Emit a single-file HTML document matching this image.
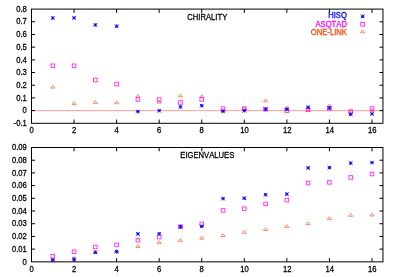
<!DOCTYPE html>
<html><head><meta charset="utf-8"><title>plot</title>
<style>
html,body{margin:0;padding:0;background:#fff;}
svg{display:block;filter:blur(0.2px);}
text{font-family:"Liberation Sans",sans-serif;font-size:9.0px;font-kerning:none;fill:#000;stroke:#000;stroke-width:0.3px;}
</style></head><body>

<svg width="396" height="277" viewBox="0 0 396 277">
<rect width="396" height="277" fill="#fff"/>
<path d="M31.5 110.65H382.95" stroke="#ff0000" stroke-width="0.4" fill="none"/>
<path d="M31.5 110.61h3.5M382.95 110.61h-3.5M31.5 97.92h3.5M382.95 97.92h-3.5M31.5 85.23h3.5M382.95 85.23h-3.5M31.5 72.54h3.5M382.95 72.54h-3.5M31.5 59.86h3.5M382.95 59.86h-3.5M31.5 47.17h3.5M382.95 47.17h-3.5M31.5 34.48h3.5M382.95 34.48h-3.5M31.5 21.79h3.5M382.95 21.79h-3.5M74.06 123.3v-3.8M74.06 9.1v3.8M116.62 123.3v-3.8M116.62 9.1v3.8M159.18 123.3v-3.8M159.18 9.1v3.8M201.74 123.3v-3.8M201.74 9.1v3.8M244.30 123.3v-3.8M244.30 9.1v3.8M286.86 123.3v-3.8M286.86 9.1v3.8M329.42 123.3v-3.8M329.42 9.1v3.8M371.98 123.3v-3.8M371.98 9.1v3.8" stroke="#000" stroke-width="1" fill="none"/>
<rect x="31.5" y="9.1" width="351.45" height="114.20" stroke="#000" stroke-width="1" fill="none"/>
<text transform="translate(26.80 125.95) scale(0.85 1)" text-anchor="end">-0.1</text>
<text transform="translate(26.80 113.26) scale(0.85 1)" text-anchor="end">0</text>
<text transform="translate(26.80 100.57) scale(0.85 1)" text-anchor="end">0.1</text>
<text transform="translate(26.80 87.88) scale(0.85 1)" text-anchor="end">0.2</text>
<text transform="translate(26.80 75.19) scale(0.85 1)" text-anchor="end">0.3</text>
<text transform="translate(26.80 62.51) scale(0.85 1)" text-anchor="end">0.4</text>
<text transform="translate(26.80 49.82) scale(0.85 1)" text-anchor="end">0.5</text>
<text transform="translate(26.80 37.13) scale(0.85 1)" text-anchor="end">0.6</text>
<text transform="translate(26.80 24.44) scale(0.85 1)" text-anchor="end">0.7</text>
<text transform="translate(26.80 11.75) scale(0.85 1)" text-anchor="end">0.8</text>
<text transform="translate(31.50 133.10) scale(0.85 1)" text-anchor="middle">0</text>
<text transform="translate(74.06 133.10) scale(0.85 1)" text-anchor="middle">2</text>
<text transform="translate(116.62 133.10) scale(0.85 1)" text-anchor="middle">4</text>
<text transform="translate(159.18 133.10) scale(0.85 1)" text-anchor="middle">6</text>
<text transform="translate(201.74 133.10) scale(0.85 1)" text-anchor="middle">8</text>
<text transform="translate(244.60 133.10) scale(0.85 1)" text-anchor="middle">10</text>
<text transform="translate(287.16 133.10) scale(0.85 1)" text-anchor="middle">12</text>
<text transform="translate(329.72 133.10) scale(0.85 1)" text-anchor="middle">14</text>
<text transform="translate(372.28 133.10) scale(0.85 1)" text-anchor="middle">16</text>
<text transform="translate(207.30 19.50) scale(0.85 1)" text-anchor="middle">CHIRALITY</text>
<path d="M52.78 85.30L54.88 88.10H50.68Z" stroke="#ff4500" stroke-width="0.62" fill="none" stroke-linejoin="miter"/>
<path d="M74.06 101.80L76.16 104.60H71.96Z" stroke="#ff4500" stroke-width="0.62" fill="none" stroke-linejoin="miter"/>
<path d="M95.34 100.60L97.44 103.40H93.24Z" stroke="#ff4500" stroke-width="0.62" fill="none" stroke-linejoin="miter"/>
<path d="M116.62 100.95L118.72 103.75H114.52Z" stroke="#ff4500" stroke-width="0.62" fill="none" stroke-linejoin="miter"/>
<path d="M137.90 94.30L140.00 97.10H135.80Z" stroke="#ff4500" stroke-width="0.62" fill="none" stroke-linejoin="miter"/>
<path d="M159.18 100.40L161.28 103.20H157.08Z" stroke="#ff4500" stroke-width="0.62" fill="none" stroke-linejoin="miter"/>
<path d="M180.46 94.00L182.56 96.80H178.36Z" stroke="#ff4500" stroke-width="0.62" fill="none" stroke-linejoin="miter"/>
<path d="M201.74 94.70L203.84 97.50H199.64Z" stroke="#ff4500" stroke-width="0.62" fill="none" stroke-linejoin="miter"/>
<path d="M223.02 108.60L225.12 111.40H220.92Z" stroke="#ff4500" stroke-width="0.62" fill="none" stroke-linejoin="miter"/>
<path d="M244.30 106.55L246.40 109.35H242.20Z" stroke="#ff4500" stroke-width="0.62" fill="none" stroke-linejoin="miter"/>
<path d="M265.58 99.00L267.68 101.80H263.48Z" stroke="#ff4500" stroke-width="0.62" fill="none" stroke-linejoin="miter"/>
<path d="M286.86 106.10L288.96 108.90H284.76Z" stroke="#ff4500" stroke-width="0.62" fill="none" stroke-linejoin="miter"/>
<path d="M308.14 108.10L310.24 110.90H306.04Z" stroke="#ff4500" stroke-width="0.62" fill="none" stroke-linejoin="miter"/>
<path d="M329.42 103.90L331.52 106.70H327.32Z" stroke="#ff4500" stroke-width="0.62" fill="none" stroke-linejoin="miter"/>
<path d="M350.70 110.10L352.80 112.90H348.60Z" stroke="#ff4500" stroke-width="0.62" fill="none" stroke-linejoin="miter"/>
<path d="M371.98 108.70L374.08 111.50H369.88Z" stroke="#ff4500" stroke-width="0.62" fill="none" stroke-linejoin="miter"/>
<rect x="50.98" y="64.00" width="3.60" height="3.60" stroke="#ff00ff" stroke-width="0.95" stroke-opacity="0.8" fill="none"/>
<rect x="72.26" y="64.00" width="3.60" height="3.60" stroke="#ff00ff" stroke-width="0.95" stroke-opacity="0.8" fill="none"/>
<rect x="93.54" y="78.20" width="3.60" height="3.60" stroke="#ff00ff" stroke-width="0.95" stroke-opacity="0.8" fill="none"/>
<rect x="114.82" y="82.30" width="3.60" height="3.60" stroke="#ff00ff" stroke-width="0.95" stroke-opacity="0.8" fill="none"/>
<rect x="136.10" y="97.60" width="3.60" height="3.60" stroke="#ff00ff" stroke-width="0.95" stroke-opacity="0.8" fill="none"/>
<rect x="157.38" y="97.80" width="3.60" height="3.60" stroke="#ff00ff" stroke-width="0.95" stroke-opacity="0.8" fill="none"/>
<rect x="178.66" y="100.70" width="3.60" height="3.60" stroke="#ff00ff" stroke-width="0.95" stroke-opacity="0.8" fill="none"/>
<rect x="199.94" y="97.60" width="3.60" height="3.60" stroke="#ff00ff" stroke-width="0.95" stroke-opacity="0.8" fill="none"/>
<rect x="221.22" y="106.80" width="3.60" height="3.60" stroke="#ff00ff" stroke-width="0.95" stroke-opacity="0.8" fill="none"/>
<rect x="242.50" y="107.00" width="3.60" height="3.60" stroke="#ff00ff" stroke-width="0.95" stroke-opacity="0.8" fill="none"/>
<rect x="263.78" y="107.40" width="3.60" height="3.60" stroke="#ff00ff" stroke-width="0.95" stroke-opacity="0.8" fill="none"/>
<rect x="285.06" y="108.80" width="3.60" height="3.60" stroke="#ff00ff" stroke-width="0.95" stroke-opacity="0.8" fill="none"/>
<rect x="306.34" y="107.90" width="3.60" height="3.60" stroke="#ff00ff" stroke-width="0.95" stroke-opacity="0.8" fill="none"/>
<rect x="327.62" y="106.40" width="3.60" height="3.60" stroke="#ff00ff" stroke-width="0.95" stroke-opacity="0.8" fill="none"/>
<rect x="348.90" y="109.80" width="3.60" height="3.60" stroke="#ff00ff" stroke-width="0.95" stroke-opacity="0.8" fill="none"/>
<rect x="370.18" y="106.70" width="3.60" height="3.60" stroke="#ff00ff" stroke-width="0.95" stroke-opacity="0.8" fill="none"/>
<path d="M51.08 18.00H54.48M52.78 16.30V19.70M50.98 16.20L54.58 19.80M50.98 19.80L54.58 16.20" stroke="#0000ff" stroke-width="0.9" fill="none"/>
<path d="M72.36 17.90H75.76M74.06 16.20V19.60M72.26 16.10L75.86 19.70M72.26 19.70L75.86 16.10" stroke="#0000ff" stroke-width="0.9" fill="none"/>
<path d="M93.64 24.95H97.04M95.34 23.25V26.65M93.54 23.15L97.14 26.75M93.54 26.75L97.14 23.15" stroke="#0000ff" stroke-width="0.9" fill="none"/>
<path d="M114.92 26.20H118.32M116.62 24.50V27.90M114.82 24.40L118.42 28.00M114.82 28.00L118.42 24.40" stroke="#0000ff" stroke-width="0.9" fill="none"/>
<path d="M136.20 111.60H139.60M137.90 109.90V113.30M136.10 109.80L139.70 113.40M136.10 113.40L139.70 109.80" stroke="#0000ff" stroke-width="0.9" fill="none"/>
<path d="M157.48 110.70H160.88M159.18 109.00V112.40M157.38 108.90L160.98 112.50M157.38 112.50L160.98 108.90" stroke="#0000ff" stroke-width="0.9" fill="none"/>
<path d="M178.76 106.90H182.16M180.46 105.20V108.60M178.66 105.10L182.26 108.70M178.66 108.70L182.26 105.10" stroke="#0000ff" stroke-width="0.9" fill="none"/>
<path d="M200.04 105.70H203.44M201.74 104.00V107.40M199.94 103.90L203.54 107.50M199.94 107.50L203.54 103.90" stroke="#0000ff" stroke-width="0.9" fill="none"/>
<path d="M221.32 111.30H224.72M223.02 109.60V113.00M221.22 109.50L224.82 113.10M221.22 113.10L224.82 109.50" stroke="#0000ff" stroke-width="0.9" fill="none"/>
<path d="M242.60 110.70H246.00M244.30 109.00V112.40M242.50 108.90L246.10 112.50M242.50 112.50L246.10 108.90" stroke="#0000ff" stroke-width="0.9" fill="none"/>
<path d="M263.88 109.20H267.28M265.58 107.50V110.90M263.78 107.40L267.38 111.00M263.78 111.00L267.38 107.40" stroke="#0000ff" stroke-width="0.9" fill="none"/>
<path d="M285.16 109.20H288.56M286.86 107.50V110.90M285.06 107.40L288.66 111.00M285.06 111.00L288.66 107.40" stroke="#0000ff" stroke-width="0.9" fill="none"/>
<path d="M306.44 107.20H309.84M308.14 105.50V108.90M306.34 105.40L309.94 109.00M306.34 109.00L309.94 105.40" stroke="#0000ff" stroke-width="0.9" fill="none"/>
<path d="M327.72 108.00H331.12M329.42 106.30V109.70M327.62 106.20L331.22 109.80M327.62 109.80L331.22 106.20" stroke="#0000ff" stroke-width="0.9" fill="none"/>
<path d="M349.00 114.30H352.40M350.70 112.60V116.00M348.90 112.50L352.50 116.10M348.90 116.10L352.50 112.50" stroke="#0000ff" stroke-width="0.9" fill="none"/>
<path d="M370.28 113.90H373.68M371.98 112.20V115.60M370.18 112.10L373.78 115.70M370.18 115.70L373.78 112.10" stroke="#0000ff" stroke-width="0.9" fill="none"/>
<text transform="translate(346.90 18.40) scale(0.85 1)" text-anchor="end" style="fill:#0000ff;stroke:#0000ff">HISQ</text>
<text transform="translate(346.90 26.60) scale(0.85 1)" text-anchor="end" style="fill:#ff00ff;stroke:#ff00ff">ASQTAD</text>
<text transform="translate(346.90 34.50) scale(0.85 1)" text-anchor="end" style="fill:#ff4500;stroke:#ff4500">ONE-LINK</text>
<path d="M360.90 16.40H364.30M362.60 14.70V18.10M360.80 14.60L364.40 18.20M360.80 18.20L364.40 14.60" stroke="#0000ff" stroke-width="0.9" fill="none"/>
<rect x="360.80" y="22.50" width="3.60" height="3.60" stroke="#ff00ff" stroke-width="0.95" stroke-opacity="0.8" fill="none"/>
<path d="M362.60 30.00L364.70 32.80H360.50Z" stroke="#ff4500" stroke-width="0.62" fill="none" stroke-linejoin="miter"/>
<path d="M31.5 249.14h3.5M382.95 249.14h-3.5M31.5 236.44h3.5M382.95 236.44h-3.5M31.5 223.73h3.5M382.95 223.73h-3.5M31.5 211.03h3.5M382.95 211.03h-3.5M31.5 198.32h3.5M382.95 198.32h-3.5M31.5 185.62h3.5M382.95 185.62h-3.5M31.5 172.91h3.5M382.95 172.91h-3.5M31.5 160.21h3.5M382.95 160.21h-3.5M74.06 261.85v-3.8M74.06 147.5v3.8M116.62 261.85v-3.8M116.62 147.5v3.8M159.18 261.85v-3.8M159.18 147.5v3.8M201.74 261.85v-3.8M201.74 147.5v3.8M244.30 261.85v-3.8M244.30 147.5v3.8M286.86 261.85v-3.8M286.86 147.5v3.8M329.42 261.85v-3.8M329.42 147.5v3.8M371.98 261.85v-3.8M371.98 147.5v3.8" stroke="#000" stroke-width="1" fill="none"/>
<rect x="31.5" y="147.5" width="351.45" height="114.35" stroke="#000" stroke-width="1" fill="none"/>
<text transform="translate(26.80 264.50) scale(0.85 1)" text-anchor="end">0</text>
<text transform="translate(26.80 251.79) scale(0.85 1)" text-anchor="end">0.01</text>
<text transform="translate(26.80 239.09) scale(0.85 1)" text-anchor="end">0.02</text>
<text transform="translate(26.80 226.38) scale(0.85 1)" text-anchor="end">0.03</text>
<text transform="translate(26.80 213.68) scale(0.85 1)" text-anchor="end">0.04</text>
<text transform="translate(26.80 200.97) scale(0.85 1)" text-anchor="end">0.05</text>
<text transform="translate(26.80 188.27) scale(0.85 1)" text-anchor="end">0.06</text>
<text transform="translate(26.80 175.56) scale(0.85 1)" text-anchor="end">0.07</text>
<text transform="translate(26.80 162.86) scale(0.85 1)" text-anchor="end">0.08</text>
<text transform="translate(26.80 150.15) scale(0.85 1)" text-anchor="end">0.09</text>
<text transform="translate(31.50 271.85) scale(0.85 1)" text-anchor="middle">0</text>
<text transform="translate(74.06 271.85) scale(0.85 1)" text-anchor="middle">2</text>
<text transform="translate(116.62 271.85) scale(0.85 1)" text-anchor="middle">4</text>
<text transform="translate(159.18 271.85) scale(0.85 1)" text-anchor="middle">6</text>
<text transform="translate(201.74 271.85) scale(0.85 1)" text-anchor="middle">8</text>
<text transform="translate(244.60 271.85) scale(0.85 1)" text-anchor="middle">10</text>
<text transform="translate(287.16 271.85) scale(0.85 1)" text-anchor="middle">12</text>
<text transform="translate(329.72 271.85) scale(0.85 1)" text-anchor="middle">14</text>
<text transform="translate(372.28 271.85) scale(0.85 1)" text-anchor="middle">16</text>
<text transform="translate(207.30 158.20) scale(0.85 1)" text-anchor="middle">EIGENVALUES</text>
<path d="M52.78 257.65L54.88 260.45H50.68Z" stroke="#ff4500" stroke-width="0.62" fill="none" stroke-linejoin="miter"/>
<path d="M74.06 256.35L76.16 259.15H71.96Z" stroke="#ff4500" stroke-width="0.62" fill="none" stroke-linejoin="miter"/>
<path d="M95.34 250.65L97.44 253.45H93.24Z" stroke="#ff4500" stroke-width="0.62" fill="none" stroke-linejoin="miter"/>
<path d="M116.62 249.40L118.72 252.20H114.52Z" stroke="#ff4500" stroke-width="0.62" fill="none" stroke-linejoin="miter"/>
<path d="M137.90 244.65L140.00 247.45H135.80Z" stroke="#ff4500" stroke-width="0.62" fill="none" stroke-linejoin="miter"/>
<path d="M159.18 240.80L161.28 243.60H157.08Z" stroke="#ff4500" stroke-width="0.62" fill="none" stroke-linejoin="miter"/>
<path d="M180.46 238.60L182.56 241.40H178.36Z" stroke="#ff4500" stroke-width="0.62" fill="none" stroke-linejoin="miter"/>
<path d="M201.74 236.40L203.84 239.20H199.64Z" stroke="#ff4500" stroke-width="0.62" fill="none" stroke-linejoin="miter"/>
<path d="M223.02 233.75L225.12 236.55H220.92Z" stroke="#ff4500" stroke-width="0.62" fill="none" stroke-linejoin="miter"/>
<path d="M244.30 230.50L246.40 233.30H242.20Z" stroke="#ff4500" stroke-width="0.62" fill="none" stroke-linejoin="miter"/>
<path d="M265.58 227.70L267.68 230.50H263.48Z" stroke="#ff4500" stroke-width="0.62" fill="none" stroke-linejoin="miter"/>
<path d="M286.86 224.80L288.96 227.60H284.76Z" stroke="#ff4500" stroke-width="0.62" fill="none" stroke-linejoin="miter"/>
<path d="M308.14 221.80L310.24 224.60H306.04Z" stroke="#ff4500" stroke-width="0.62" fill="none" stroke-linejoin="miter"/>
<path d="M329.42 216.80L331.52 219.60H327.32Z" stroke="#ff4500" stroke-width="0.62" fill="none" stroke-linejoin="miter"/>
<path d="M350.70 213.50L352.80 216.30H348.60Z" stroke="#ff4500" stroke-width="0.62" fill="none" stroke-linejoin="miter"/>
<path d="M371.98 213.15L374.08 215.95H369.88Z" stroke="#ff4500" stroke-width="0.62" fill="none" stroke-linejoin="miter"/>
<rect x="50.98" y="254.50" width="3.60" height="3.60" stroke="#ff00ff" stroke-width="0.95" stroke-opacity="0.8" fill="none"/>
<rect x="72.26" y="249.90" width="3.60" height="3.60" stroke="#ff00ff" stroke-width="0.95" stroke-opacity="0.8" fill="none"/>
<rect x="93.54" y="245.25" width="3.60" height="3.60" stroke="#ff00ff" stroke-width="0.95" stroke-opacity="0.8" fill="none"/>
<rect x="114.82" y="243.10" width="3.60" height="3.60" stroke="#ff00ff" stroke-width="0.95" stroke-opacity="0.8" fill="none"/>
<rect x="136.10" y="238.45" width="3.60" height="3.60" stroke="#ff00ff" stroke-width="0.95" stroke-opacity="0.8" fill="none"/>
<rect x="157.38" y="235.30" width="3.60" height="3.60" stroke="#ff00ff" stroke-width="0.95" stroke-opacity="0.8" fill="none"/>
<rect x="178.66" y="224.90" width="3.60" height="3.60" stroke="#ff00ff" stroke-width="0.95" stroke-opacity="0.8" fill="none"/>
<rect x="199.94" y="222.20" width="3.60" height="3.60" stroke="#ff00ff" stroke-width="0.95" stroke-opacity="0.8" fill="none"/>
<rect x="221.22" y="208.65" width="3.60" height="3.60" stroke="#ff00ff" stroke-width="0.95" stroke-opacity="0.8" fill="none"/>
<rect x="242.50" y="206.90" width="3.60" height="3.60" stroke="#ff00ff" stroke-width="0.95" stroke-opacity="0.8" fill="none"/>
<rect x="263.78" y="202.10" width="3.60" height="3.60" stroke="#ff00ff" stroke-width="0.95" stroke-opacity="0.8" fill="none"/>
<rect x="285.06" y="198.35" width="3.60" height="3.60" stroke="#ff00ff" stroke-width="0.95" stroke-opacity="0.8" fill="none"/>
<rect x="306.34" y="181.20" width="3.60" height="3.60" stroke="#ff00ff" stroke-width="0.95" stroke-opacity="0.8" fill="none"/>
<rect x="327.62" y="180.60" width="3.60" height="3.60" stroke="#ff00ff" stroke-width="0.95" stroke-opacity="0.8" fill="none"/>
<rect x="348.90" y="175.60" width="3.60" height="3.60" stroke="#ff00ff" stroke-width="0.95" stroke-opacity="0.8" fill="none"/>
<rect x="370.18" y="172.20" width="3.60" height="3.60" stroke="#ff00ff" stroke-width="0.95" stroke-opacity="0.8" fill="none"/>
<path d="M51.08 260.05H54.48M52.78 258.35V261.75M50.98 258.25L54.58 261.85M50.98 261.85L54.58 258.25" stroke="#0000ff" stroke-width="0.9" fill="none"/>
<path d="M72.36 259.30H75.76M74.06 257.60V261.00M72.26 257.50L75.86 261.10M72.26 261.10L75.86 257.50" stroke="#0000ff" stroke-width="0.9" fill="none"/>
<path d="M93.64 252.35H97.04M95.34 250.65V254.05M93.54 250.55L97.14 254.15M93.54 254.15L97.14 250.55" stroke="#0000ff" stroke-width="0.9" fill="none"/>
<path d="M114.92 251.70H118.32M116.62 250.00V253.40M114.82 249.90L118.42 253.50M114.82 253.50L118.42 249.90" stroke="#0000ff" stroke-width="0.9" fill="none"/>
<path d="M136.20 233.90H139.60M137.90 232.20V235.60M136.10 232.10L139.70 235.70M136.10 235.70L139.70 232.10" stroke="#0000ff" stroke-width="0.9" fill="none"/>
<path d="M157.48 233.70H160.88M159.18 232.00V235.40M157.38 231.90L160.98 235.50M157.38 235.50L160.98 231.90" stroke="#0000ff" stroke-width="0.9" fill="none"/>
<path d="M178.76 226.70H182.16M180.46 225.00V228.40M178.66 224.90L182.26 228.50M178.66 228.50L182.26 224.90" stroke="#0000ff" stroke-width="0.9" fill="none"/>
<path d="M200.04 226.40H203.44M201.74 224.70V228.10M199.94 224.60L203.54 228.20M199.94 228.20L203.54 224.60" stroke="#0000ff" stroke-width="0.9" fill="none"/>
<path d="M221.32 198.60H224.72M223.02 196.90V200.30M221.22 196.80L224.82 200.40M221.22 200.40L224.82 196.80" stroke="#0000ff" stroke-width="0.9" fill="none"/>
<path d="M242.60 198.20H246.00M244.30 196.50V199.90M242.50 196.40L246.10 200.00M242.50 200.00L246.10 196.40" stroke="#0000ff" stroke-width="0.9" fill="none"/>
<path d="M263.88 194.70H267.28M265.58 193.00V196.40M263.78 192.90L267.38 196.50M263.78 196.50L267.38 192.90" stroke="#0000ff" stroke-width="0.9" fill="none"/>
<path d="M285.16 194.10H288.56M286.86 192.40V195.80M285.06 192.30L288.66 195.90M285.06 195.90L288.66 192.30" stroke="#0000ff" stroke-width="0.9" fill="none"/>
<path d="M306.44 167.90H309.84M308.14 166.20V169.60M306.34 166.10L309.94 169.70M306.34 169.70L309.94 166.10" stroke="#0000ff" stroke-width="0.9" fill="none"/>
<path d="M327.72 167.60H331.12M329.42 165.90V169.30M327.62 165.80L331.22 169.40M327.62 169.40L331.22 165.80" stroke="#0000ff" stroke-width="0.9" fill="none"/>
<path d="M349.00 163.10H352.40M350.70 161.40V164.80M348.90 161.30L352.50 164.90M348.90 164.90L352.50 161.30" stroke="#0000ff" stroke-width="0.9" fill="none"/>
<path d="M370.28 162.60H373.68M371.98 160.90V164.30M370.18 160.80L373.78 164.40M370.18 164.40L373.78 160.80" stroke="#0000ff" stroke-width="0.9" fill="none"/>
</svg>
</body></html>
